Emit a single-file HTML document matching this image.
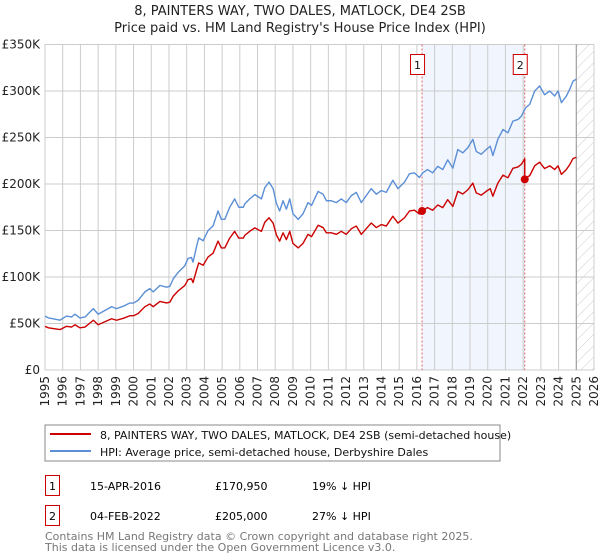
<!DOCTYPE html>
<html><head><meta charset="utf-8"><style>
body{margin:0;background:#fff;font-family:"DejaVu Sans","Liberation Sans",sans-serif;}
svg{display:block}
text{font-family:"DejaVu Sans","Liberation Sans",sans-serif;}
</style></head><body>
<svg id="c" width="600" height="560" viewBox="0 0 600 560" xmlns="http://www.w3.org/2000/svg">
<defs>
<pattern id="hatch" width="8" height="8" patternUnits="userSpaceOnUse" patternTransform="rotate(45)">
<line x1="0" y1="0" x2="0" y2="8" stroke="#ccc" stroke-width="1"/>
</pattern>
</defs>
<text x="300" y="15" text-anchor="middle" font-size="13" fill="#222">8, PAINTERS WAY, TWO DALES, MATLOCK, DE4 2SB</text>
<text x="300" y="32" text-anchor="middle" font-size="13" fill="#222">Price paid vs. HM Land Registry's House Price Index (HPI)</text>
<g id="grid"></g>
<g id="marks"></g>
<rect x="45" y="425" width="455" height="36" fill="#fff" stroke="#888"/>
<line x1="50" y1="434" x2="91" y2="434" stroke="#cc0000" stroke-width="2"/>
<text x="100" y="439" font-size="11" fill="#111">8, PAINTERS WAY, TWO DALES, MATLOCK, DE4 2SB (semi-detached house)</text>
<line x1="50" y1="451" x2="91" y2="451" stroke="#5b8fd6" stroke-width="2"/>
<text x="100" y="456" font-size="11" fill="#111">HPI: Average price, semi-detached house, Derbyshire Dales</text>
<g>
<rect x="45.5" y="475.5" width="14" height="20" fill="#fff" stroke="#cc0000"/>
<text x="52.5" y="490" text-anchor="middle" font-size="11">1</text>
<text x="90" y="490" font-size="11">15-APR-2016</text>
<text x="215" y="490" font-size="11">£170,950</text>
<text x="312" y="490" font-size="11">19% ↓ HPI</text>
</g>
<g>
<rect x="45.5" y="505.5" width="14" height="20" fill="#fff" stroke="#cc0000"/>
<text x="52.5" y="520" text-anchor="middle" font-size="11">2</text>
<text x="90" y="520" font-size="11">04-FEB-2022</text>
<text x="215" y="520" font-size="11">£205,000</text>
<text x="312" y="520" font-size="11">27% ↓ HPI</text>
</g>
<text x="45" y="540" font-size="11" fill="#777">Contains HM Land Registry data © Crown copyright and database right 2025.</text>
<text x="45" y="551" font-size="11" fill="#777">This data is licensed under the Open Government Licence v3.0.</text>
</svg>
<script>
const years=[1995.0,1995.19,1995.47,1995.85,1996.22,1996.5,1996.69,1996.97,1997.26,1997.73,1998.0,1998.38,1998.76,1999.04,1999.42,1999.79,2000.0,2000.26,2000.64,2000.92,2001.11,2001.49,2001.86,2002.05,2002.24,2002.52,2002.89,2003.08,2003.27,2003.36,2003.55,2003.68,2003.93,2004.21,2004.49,2004.77,2004.96,2005.15,2005.43,2005.71,2005.94,2006.2,2006.28,2006.56,2006.85,2007.22,2007.41,2007.65,2007.88,2008.07,2008.25,2008.44,2008.63,2008.82,2009.0,2009.3,2009.57,2009.85,2010.05,2010.42,2010.7,2010.89,2011.17,2011.45,2011.73,2012.01,2012.3,2012.58,2012.86,2013.14,2013.42,2013.71,2013.99,2014.27,2014.64,2014.93,2015.3,2015.58,2015.86,2016.14,2016.33,2016.6,2016.89,2017.18,2017.46,2017.74,2018.03,2018.31,2018.59,2018.87,2019.16,2019.35,2019.63,2019.91,2020.14,2020.29,2020.57,2020.86,2021.14,2021.42,2021.71,2021.9,2022.14,2022.37,2022.65,2022.93,2023.21,2023.5,2023.78,2023.97,2024.16,2024.44,2024.63,2024.82,2025.0];
const hpiValues=[57.9,56,55,53.6,58,57,60,56,57,66,60,64,68,66,68.6,72,72,75,84,87.5,84,91,89,90,98,105,112,120,121,116,132,142,139,150,155,171,162,162,175,184,175,175,178.6,184,188.6,184,196,202,195,179,171,182,173,184,168,162,168,180,177,192,189,182,182,180,184,180,187.5,191,180,187.5,195,189,193,191,204,195,202,211,212,207,212,215.5,212,219,215.5,226,217,237,233.5,239,248,235,232,237,240.6,230.6,248,258.6,255,267.6,269.4,273,282,285.6,300,305.4,296,300,294.6,300,287.4,294.6,301.8,310.8,312.6];
const saleYears=[2016.29,2022.09];
const salePrices=[170950,205000];
const saleLabels=["1","2"];
const yTicks=[0,50000,100000,150000,200000,250000,300000,350000];
const yTickLabels=["£0","£50K","£100K","£150K","£200K","£250K","£300K","£350K"];
const xTicks=[1995,1996,1997,1998,1999,2000,2001,2002,2003,2004,2005,2006,2007,2008,2009,2010,2011,2012,2013,2014,2015,2016,2017,2018,2019,2020,2021,2022,2023,2024,2025,2026];

const X0=45,X1=594,Y0=370,Y1=44.5;
const xs=y=>X0+(y-1995)/(2026-1995)*(X1-X0);
const ys=v=>Y0-v/350000*(Y0-Y1);
const NS="http://www.w3.org/2000/svg";
function mk(tag,attrs,parent){const e=document.createElementNS(NS,tag);for(const k in attrs)e.setAttribute(k,attrs[k]);parent.appendChild(e);return e;}
const grid=document.getElementById('grid'),marks=document.getElementById('marks');

function hpiAt(t){for(let i=1;i<years.length;i++){if(t<=years[i]){const f=(t-years[i-1])/(years[i]-years[i-1]);return (hpiValues[i-1]+f*(hpiValues[i]-hpiValues[i-1]))*1000;}}return hpiValues[hpiValues.length-1]*1000;}

const sh=mk('rect',{x:xs(saleYears[0]),y:Y1,width:xs(saleYears[1])-xs(saleYears[0]),height:Y0-Y1,fill:'#eef3fc',opacity:0.8},grid);


const hz=mk('rect',{x:xs(2025.0),y:Y1,width:X1-xs(2025.0),height:Y0-Y1,fill:'url(#hatch)'},grid);



yTicks.forEach((v,i)=>{
  const l=mk('line',{x1:X0,x2:X1,y1:ys(v),y2:ys(v),stroke:'#ccc','stroke-width':1},grid);
  
  
  const t=mk('text',{x:X0-5,y:ys(v)+4,'text-anchor':'end','font-size':'12',fill:'#222'},grid);
  t.textContent=yTickLabels[i];
  
  
});
xTicks.forEach(yr=>{
  const x=xs(yr);
  const l=mk('line',{x1:x,x2:x,y1:Y1,y2:Y0,stroke:'#ccc','stroke-width':1},grid);
  
  
  const t=mk('text',{x:x+4,y:Y0+6,'text-anchor':'end','font-size':'12',fill:'#222',transform:`rotate(-90 ${x+4} ${Y0+6})`},grid);
  t.textContent=yr;
  
  
});
const nl=mk('line',{x1:xs(2025.0),x2:xs(2025.0),y1:Y1,y2:Y0,stroke:'#999','stroke-width':1},grid);



saleYears.forEach((sy,i)=>{
  const l=mk('line',{x1:xs(sy),x2:xs(sy),y1:Y1,y2:Y0,stroke:'#e06060','stroke-width':1,'stroke-dasharray':'2,2'},marks);
  
  
});

const hp=mk('polyline',{points:years.map((y,i)=>xs(y)+','+ys(hpiValues[i]*1000)).join(' '),fill:'none',stroke:'#5b8fd6','stroke-width':1.4,'stroke-linejoin':'round'},marks);



const r0=salePrices[0]/hpiAt(saleYears[0]), r1=salePrices[1]/hpiAt(saleYears[1]);
const pts=[];
years.forEach((y,i)=>{ if(y<saleYears[1]) pts.push(xs(y)+','+ys(hpiValues[i]*1000*r0)); });
pts.push(xs(saleYears[1])+','+ys(hpiAt(saleYears[1])*r0));
pts.push(xs(saleYears[1])+','+ys(salePrices[1]));
years.forEach((y,i)=>{ if(y>saleYears[1]) pts.push(xs(y)+','+ys(hpiValues[i]*1000*r1)); });
const pl=mk('polyline',{points:pts.join(' '),fill:'none',stroke:'#cc0000','stroke-width':1.4,'stroke-linejoin':'round'},marks);



saleYears.forEach((sy,i)=>{
  const d=mk('circle',{cx:xs(sy),cy:ys(salePrices[i]),r:4,fill:'#cc0000'},marks);
  
  
  const b=mk('rect',{x:xs(sy)-11.5,y:54.5,width:14,height:20,fill:'#fff',stroke:'#cc0000'},marks);
  
  
  const t=mk('text',{x:xs(sy)-4.5,y:69,'text-anchor':'middle','font-size':'11',fill:'#111'},marks);
  t.textContent=saleLabels[i];
  
  
});
</script>
</body></html>
